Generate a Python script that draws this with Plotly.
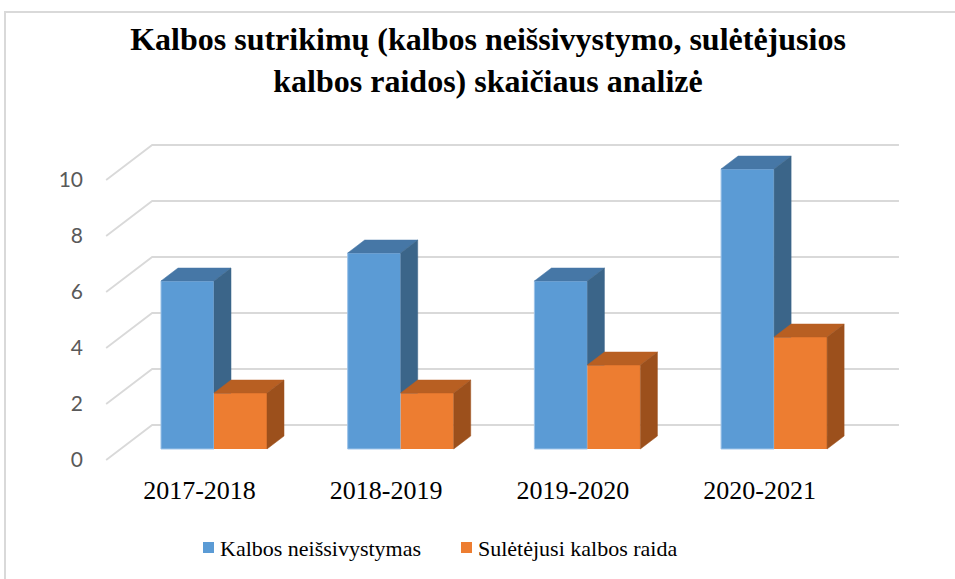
import plotly.graph_objects as go

# ---- data ----
categories = ["2017-2018", "2018-2019", "2019-2020", "2020-2021"]
series_names = ["Kalbos neišsivystymas", "Sulėtėjusi kalbos raida"]
kalbos_neissivystymas = [6, 7, 6, 10]
suletejusi_raida = [2, 2, 3, 4]
y_ticks = [0, 2, 4, 6, 8, 10]
title_text = "Kalbos sutrikimų (kalbos neišsivystymo, sulėtėjusios<br>kalbos raidos) skaičiaus analizė"

# ---- style / geometry ----
W, H = 955, 579
SX, SY = 186.7, 28.0          # px per data unit
X0PX, Y0PX = 199.5, 460.0     # pixel of (x=0, y=0) on the front plane
DEPTH_X, DEPTH_Y = 46 / SX, 35 / SY   # full floor depth in data units
BAR_D0, BAR_D1 = 0.315, 0.685
BAR_W = 53 / SX
BLUE, BLUE_TOP, BLUE_SIDE = "#5b9bd5", "#4677a6", "#3b6589"
ORANGE, ORANGE_TOP, ORANGE_SIDE = "#ed7d31", "#b85f22", "#9c501c"
GRID = "#d9d9d9"
SERIF = "Liberation Serif"

ML, MR, MT, MB = 97, 46, 138, 111
x_range = [(ML - X0PX) / SX, (W - MR - X0PX) / SX]
y_range = [(Y0PX - (H - MB)) / SY, (Y0PX - MT) / SY]
pw, ph = W - ML - MR, H - MT - MB


def px_x(px):
    return (px - ML) / pw


def px_y(py):
    return (H - MB - py) / ph


xpos = list(range(len(categories)))
fx, fy = BAR_D0 * DEPTH_X, BAR_D0 * DEPTH_Y          # front-plane shift of bars
ddx, ddy = (BAR_D1 - BAR_D0) * DEPTH_X, (BAR_D1 - BAR_D0) * DEPTH_Y

fig = go.Figure()

# front faces
fig.add_trace(go.Bar(
    x=[p + fx for p in xpos], y=kalbos_neissivystymas, base=fy, width=BAR_W, offset=-BAR_W,
    marker=dict(color=BLUE, line=dict(color="#9cc2e8", width=1)), name=series_names[0],
    hoverinfo="skip", showlegend=False))
fig.add_trace(go.Bar(
    x=[p + fx for p in xpos], y=suletejusi_raida, base=fy, width=BAR_W, offset=0,
    marker=dict(color=ORANGE, line=dict(width=0)), name=series_names[1],
    hoverinfo="skip", showlegend=False))


def poly(xs, ys, color):
    fig.add_trace(go.Scatter(x=xs + [xs[0]], y=ys + [ys[0]], mode="lines", fill="toself",
                             fillcolor=color, line=dict(color=color, width=0.5),
                             hoverinfo="skip", showlegend=False))


# blue top + side (side clipped by orange front face)
for p, v, o in zip(xpos, kalbos_neissivystymas, suletejusi_raida):
    xl = p + fx - BAR_W
    xr = p + fx
    top = fy + v
    poly([xl, xr, xr + ddx, xl + ddx], [top, top, top + ddy, top + ddy], BLUE_TOP)
    low = max(fy + o, fy + ddy)
    poly([xr, xr + ddx, xr + ddx, xr], [low, low, top + ddy, top], BLUE_SIDE)

# orange top + side
for p, o in zip(xpos, suletejusi_raida):
    xl = p + fx
    xr = p + fx + BAR_W
    top = fy + o
    poly([xl, xr, xr + ddx, xl + ddx], [top, top, top + ddy, top + ddy], ORANGE_TOP)
    poly([xr, xr + ddx, xr + ddx, xr], [fy, fy + ddy, top + ddy, top], ORANGE_SIDE)

# 3D gridlines (floor diagonal + back wall)
shapes = []
x_left = -0.5
x_right = len(categories) - 0.5
for t in y_ticks:
    path = (f"M {x_left},{t} L {x_left + DEPTH_X},{t + DEPTH_Y} "
            f"L {x_right + DEPTH_X},{t + DEPTH_Y}")
    shapes.append(dict(type="path", path=path, xref="x", yref="y", layer="below",
                       line=dict(color=GRID, width=1.8)))

# chart border (left/top visible)
shapes.append(dict(type="rect", xref="paper", yref="paper",
                   x0=px_x(5), x1=px_x(W + 20), y0=-2, y1=px_y(12),
                   line=dict(color="#d9d9d9", width=2), layer="below"))

# legend (squares + labels)
annotations = []
legend_items = [(series_names[0], BLUE, 203), (series_names[1], ORANGE, 461)]
for name, color, sx in legend_items:
    shapes.append(dict(type="rect", xref="paper", yref="paper",
                       x0=px_x(sx), x1=px_x(sx + 11), y0=px_y(553), y1=px_y(542),
                       fillcolor=color, line=dict(width=0)))
    annotations.append(dict(text=name, xref="paper", yref="paper", x=px_x(sx + 15),
                            y=px_y(548), xanchor="left", yanchor="middle", showarrow=False,
                            font=dict(family=SERIF, size=22, color="black")))

fig.update_layout(
    width=W, height=H,
    margin=dict(l=ML, r=MR, t=MT, b=MB, autoexpand=False),
    paper_bgcolor="white", plot_bgcolor="rgba(0,0,0,0)",
    font=dict(family=SERIF, color="black"),
    barmode="overlay",
    shapes=shapes,
    annotations=annotations,
    title=dict(text=title_text, x=0.511, xanchor="center", xref="container",
               y=1 - 50 / H, yanchor="top", yref="container",
               font=dict(family=SERIF, size=32, color="black", weight="bold")),
    xaxis=dict(range=x_range, tickvals=xpos, ticktext=categories, showgrid=False,
               zeroline=False, showline=False, ticks="", ticklabelstandoff=4,
               tickfont=dict(family=SERIF, size=26, color="black"),
               fixedrange=True),
    yaxis=dict(range=y_range, tickvals=y_ticks, showgrid=False, zeroline=False,
               showline=False, ticks="", ticklabelstandoff=13,
               tickfont=dict(family="Lato", size=21, color="#595959"),
               fixedrange=True),
    showlegend=False,
)

fig.write_html("out.html", config={"displayModeBar": False},
               post_script="document.body.style.margin='0px';")
